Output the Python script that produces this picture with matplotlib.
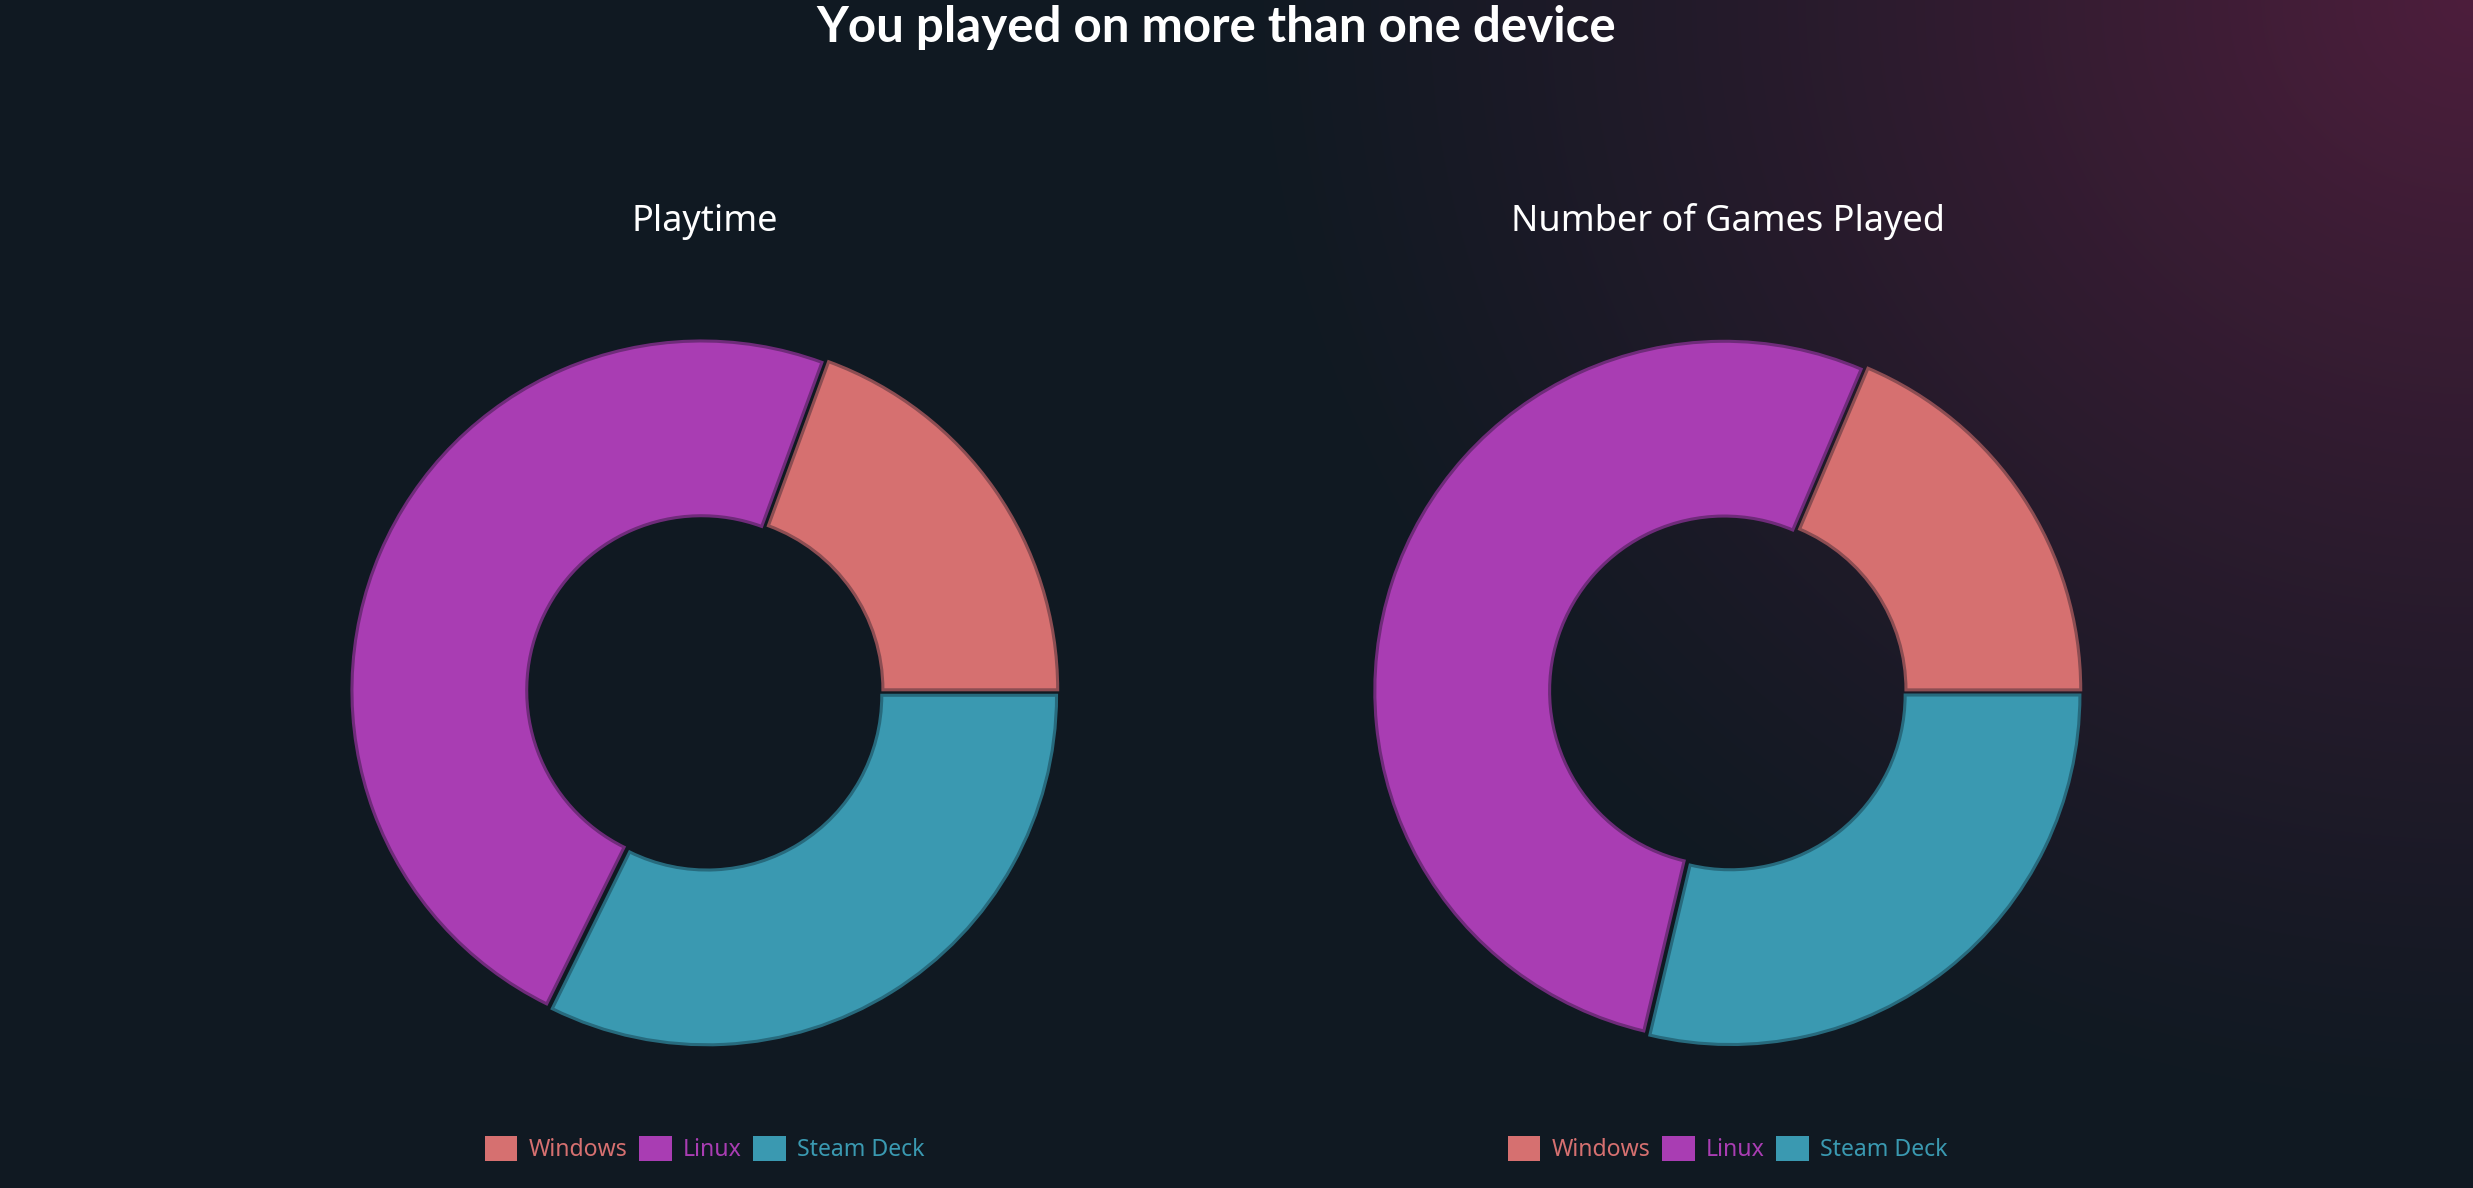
import numpy as np
import matplotlib
matplotlib.use("Agg")
import matplotlib.pyplot as plt

plt.rcParams['font.family'] = ['Noto Sans', 'DejaVu Sans']

# data (share of total)
devices = ['Windows', 'Linux', 'Steam Deck']
playtime = [19.4, 48.3, 32.3]
games_played = [18.6, 52.7, 28.7]
panel_titles = ['Playtime', 'Number of Games Played']

colors = ['#d67070', '#a93db3', '#3a99b1']
edges = ['#8c4d52', '#6f2b7a', '#276a7d']
bg = '#101922'

W, H = 2473, 1188
fig = plt.figure(figsize=(W / 100, H / 100), dpi=100)
fig.patch.set_facecolor(bg)

# background with the pinkish glow in the top right corner
bg_ax = fig.add_axes([0, 0, 1, 1])
yy, xx = np.mgrid[0:H, 0:W]
d = np.sqrt((xx - W) ** 2 + (yy * 1.1) ** 2) / 1250.0
t = np.clip(1 - d, 0, 1) ** 1.2
base = np.array([0x10, 0x19, 0x22]) / 255
glow = np.array([0x4d, 0x1e, 0x3c]) / 255
img = base + (glow - base) * t[..., None]
bg_ax.imshow(img, extent=[0, W, H, 0], aspect='auto')
bg_ax.set_xlim(0, W)
bg_ax.set_ylim(H, 0)
bg_ax.axis('off')

fig.text(1216 / W, 1 - 27 / H, 'You played on more than one device',
         ha='center', va='center', fontsize=35.5, fontweight='bold',
         family=['Lato', 'DejaVu Sans'], color='white')

centers = [705, 1728]
R = 350
for cx, vals, title in zip(centers, [playtime, games_played], panel_titles):
    ax = fig.add_axes([(cx - R - 10) / W, (H - 692 - R - 10) / H,
                       (2 * R + 20) / W, (2 * R + 20) / H])
    ax.set_facecolor('none')
    wedges, _ = ax.pie(vals, colors=colors, startangle=0, counterclock=True,
                       radius=1.0, explode=[0.011] * 3,
                       wedgeprops=dict(width=0.5, linewidth=2.2))
    for w, ec in zip(wedges, edges):
        w.set_edgecolor(ec)
    ax.set_xlim(-1.03, 1.03)
    ax.set_ylim(-1.03, 1.03)
    ax.set_aspect('equal')
    ax.axis('off')

    fig.text(cx / W, 1 - 222 / H, title, ha='center', va='center',
             fontsize=26, color='white')

    handles = [plt.Rectangle((0, 0), 1, 1, fc=c, ec='none') for c in colors]
    leg = fig.legend(handles, devices, loc='center',
                     bbox_to_anchor=(cx / W, 1 - 1149 / H), ncol=3, frameon=False,
                     fontsize=16.6, handlelength=1.4, handleheight=1.3,
                     handletextpad=0.5, columnspacing=0.5)
    for txt, c in zip(leg.get_texts(), colors):
        txt.set_color(c)

fig.savefig('out.png', dpi=100, facecolor=bg)
